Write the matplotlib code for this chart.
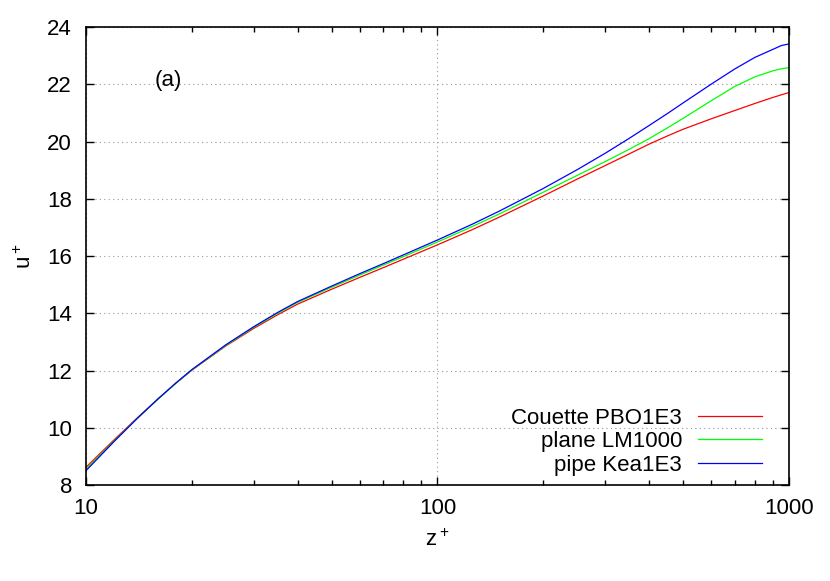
import matplotlib
matplotlib.use('Agg')
import matplotlib.pyplot as plt
from matplotlib.ticker import FixedLocator, LogLocator, NullFormatter

plt.rcParams['font.family'] = ['Liberation Sans', 'DejaVu Sans']

# z+ positions
zplus = [10, 12, 14, 16, 18, 20, 25, 30, 35, 40, 50, 60, 70, 80, 100, 125, 150,
         200, 250, 300, 350, 400, 450, 500, 600, 700, 800, 900, 950, 1000]

couette_pbo1e3 = [8.62, 9.57, 10.35, 11.00, 11.55, 12.01, 12.86, 13.47, 13.94, 14.32,
                  14.84, 15.25, 15.59, 15.89, 16.39, 16.91, 17.36, 18.10, 18.69, 19.16,
                  19.56, 19.91, 20.19, 20.43, 20.79, 21.08, 21.33, 21.54, 21.63, 21.71]
plane_lm1000 = [8.55, 9.53, 10.33, 10.99, 11.55, 12.02, 12.88, 13.51, 13.99, 14.38,
                14.91, 15.33, 15.68, 15.98, 16.49, 17.02, 17.47, 18.23, 18.82, 19.30,
                19.72, 20.10, 20.47, 20.81, 21.42, 21.92, 22.26, 22.47, 22.54, 22.58]
pipe_kea1e3 = [8.50, 9.51, 10.33, 11.00, 11.56, 12.03, 12.90, 13.53, 14.02, 14.41,
               14.95, 15.38, 15.73, 16.04, 16.56, 17.10, 17.57, 18.36, 19.02, 19.59,
               20.10, 20.56, 20.97, 21.35, 22.00, 22.53, 22.94, 23.22, 23.35, 23.41]

labels = ['Couette PBO1E3', 'plane LM1000', 'pipe Kea1E3']
colors = ['#ff0000', '#00ff00', '#0000ff']

xticks = [10, 100, 1000]
yticks = [8, 10, 12, 14, 16, 18, 20, 22, 24]

fig = plt.figure(figsize=(8.3, 5.81), dpi=100)
ax = fig.add_axes([0.1036, 0.1652, 0.8470, 0.7883])

for y, lab, c in zip([couette_pbo1e3, plane_lm1000, pipe_kea1e3], labels, colors):
    ax.plot(zplus, y, color=c, lw=0.9, label=lab)

ax.set_xscale('log')
ax.set_xlim(10, 1000)
ax.set_ylim(8, 24)
ax.xaxis.set_major_locator(FixedLocator(xticks))
ax.xaxis.set_minor_locator(LogLocator(base=10, subs=range(2, 10)))
ax.xaxis.set_minor_formatter(NullFormatter())
ax.set_xticks(xticks)
ax.set_xticklabels([str(v) for v in xticks])
ax.set_yticks(yticks)

ax.grid(True, which='major', ls=(0, (1, 3)), color='#999999', lw=0.8)
ax.tick_params(which='both', direction='in', top=True, right=True,
               labelsize=16, width=1.0)
ax.tick_params(which='major', length=6)
ax.tick_params(which='minor', length=3.5)
ax.tick_params(axis='y', pad=10)
ax.tick_params(axis='x', pad=9)
for s in ax.spines.values():
    s.set_linewidth(1.2)

ax.set_xlabel(r'z$\mathregular{^+}$', fontsize=16, labelpad=8)
ax.set_ylabel(r'u$\mathregular{^+}$', fontsize=16, labelpad=8)

ax.text(0.117, 0.884, '(a)', transform=ax.transAxes, fontsize=16,
        ha='center', va='center')

leg = ax.legend(loc='lower right', bbox_to_anchor=(0.961, 0.02), frameon=False,
                markerfirst=False, fontsize=16, handlelength=2.85,
                handletextpad=0.72, labelspacing=0.12, borderpad=0, borderaxespad=0)

fig.savefig('out.png', dpi=100)
